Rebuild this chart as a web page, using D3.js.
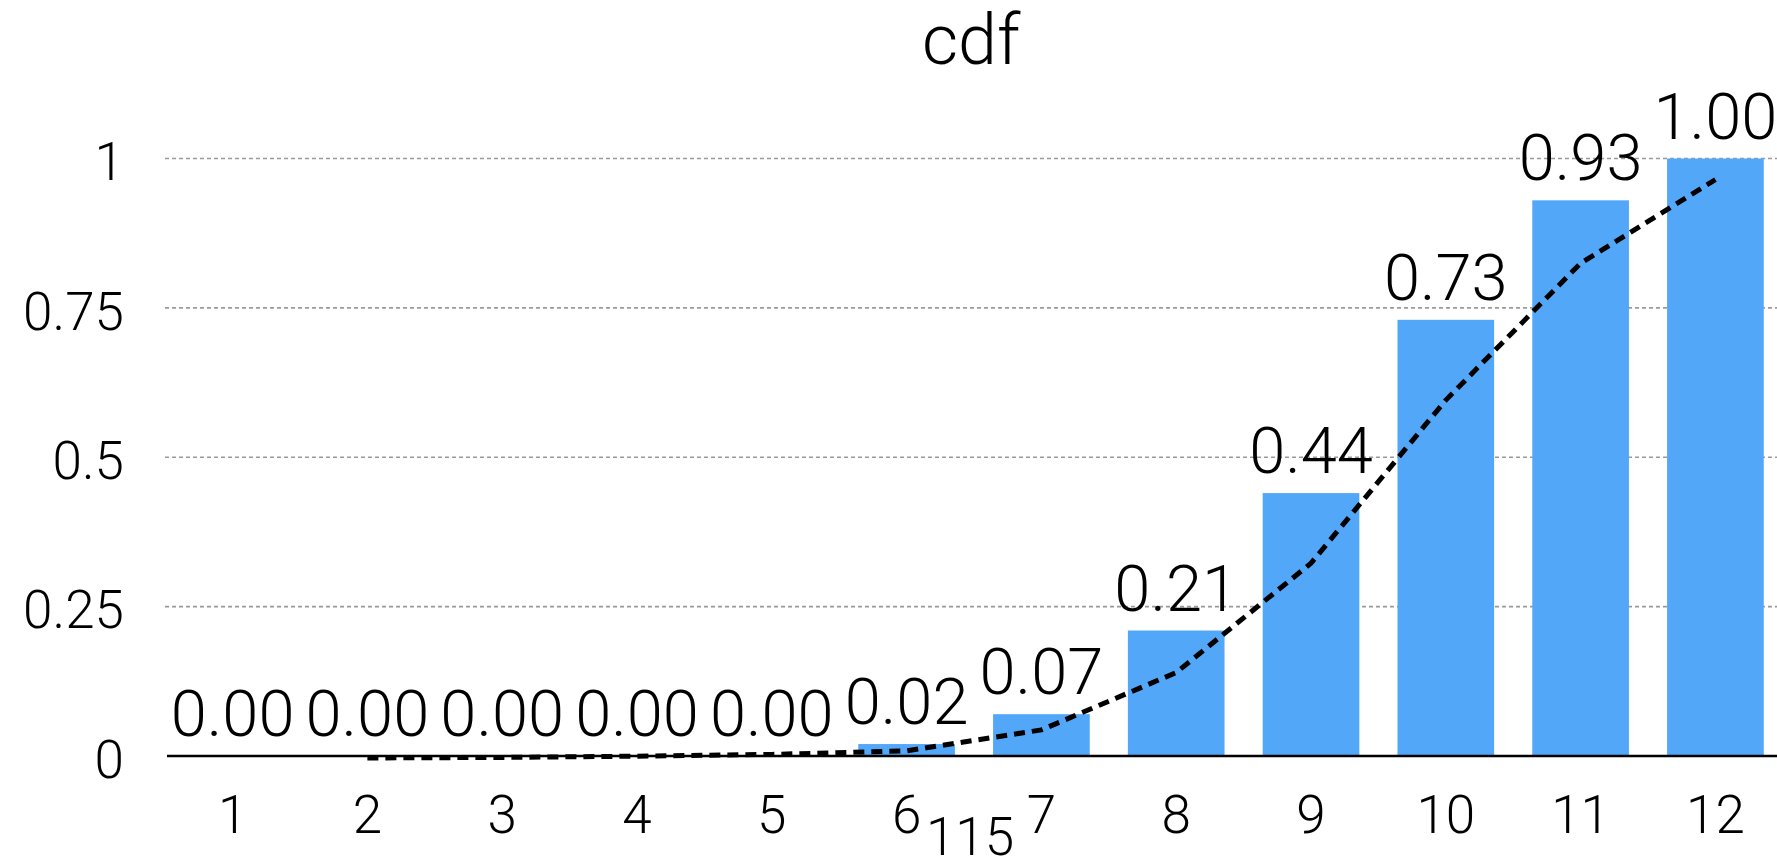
<!DOCTYPE html>
<html>
<head>
<meta charset="utf-8">
<script src="https://cdn.jsdelivr.net/npm/d3@7"></script>
<style>
  html, body { margin: 0; padding: 0; background: #fff; }
  svg { display: block; }
  text { font-family: Roboto, "Liberation Sans", sans-serif; font-weight: 300; fill: #000; }
</style>
</head>
<body>
<svg id="chart" width="1777" height="856"></svg>
<script>
// Categories on the x axis
const categories = [1, 2, 3, 4, 5, 6, 7, 8, 9, 10, 11, 12];
// Cumulative probability per category (bars)
const cdfValues = [0.00, 0.00, 0.00, 0.00, 0.00, 0.02, 0.07, 0.21, 0.44, 0.73, 0.93, 1.00];
// Smooth reference curve (dashed line)
const curveCategories = [2, 3, 4, 5, 6, 7, 8, 9, 10, 11, 12];
const curveValues = [0.000, 0.001, 0.003, 0.006, 0.012, 0.047, 0.143, 0.326, 0.599, 0.828, 0.968];
// Y axis ticks
const yTicks = [0, 0.25, 0.5, 0.75, 1];
const yTickLabels = ["0", "0.25", "0.5", "0.75", "1"];
const chartTitle = "cdf";
const footnote = "115";

const svg = d3.select("#chart");
const W = 1777, H = 856;
const plot = { left: 167, right: 1781, top: 158.5, bottom: 756 };

const x = d3.scaleBand()
  .domain(categories)
  .range([plot.left, plot.right])
  .paddingInner(0.283)
  .paddingOuter(0.128);

const y = d3.scaleLinear()
  .domain([0, 1])
  .range([plot.bottom, plot.top]);

// Dashed horizontal grid lines
svg.append("g")
  .selectAll("line")
  .data(yTicks.filter(d => d > 0))
  .join("line")
  .attr("x1", plot.left - 2)
  .attr("x2", W)
  .attr("y1", d => y(d))
  .attr("y2", d => y(d))
  .attr("stroke", "#9a9a9a")
  .attr("stroke-width", 1.6)
  .attr("stroke-dasharray", "4,3");

// Bars
svg.append("g")
  .selectAll("rect")
  .data(categories)
  .join("rect")
  .attr("x", d => x(d))
  .attr("width", x.bandwidth())
  .attr("y", (d, i) => y(cdfValues[i]))
  .attr("height", (d, i) => y(0) - y(cdfValues[i]))
  .attr("fill", "#52a7f9");

// Value labels above the bars
svg.append("g")
  .selectAll("text")
  .data(categories)
  .join("text")
  .attr("x", d => x(d) + x.bandwidth() / 2)
  .attr("y", (d, i) => y(cdfValues[i]) - 20)
  .attr("text-anchor", "middle")
  .style("font-size", "65px")
  .text((d, i) => d3.format(".2f")(cdfValues[i]));

// Dashed curve through the category centres
const line = d3.line()
  .x((d, i) => x(d) + x.bandwidth() / 2)
  .y((d, i) => y(curveValues[i]));

svg.append("path")
  .datum(curveCategories)
  .attr("transform", "translate(0,2)")
  .attr("d", line)
  .attr("fill", "none")
  .attr("stroke", "#000")
  .attr("stroke-width", 5)
  .attr("stroke-dasharray", "11,7");

// X axis
const xAxis = svg.append("g")
  .attr("transform", `translate(0,${plot.bottom})`)
  .call(d3.axisBottom(x).tickSize(0).tickPadding(0));
xAxis.select(".domain").remove();
xAxis.selectAll("text")
  .attr("y", 77)
  .attr("dy", null)
  .style("font-size", "53px")
  .style("font-family", null);

svg.append("line")
  .attr("x1", plot.left)
  .attr("x2", W)
  .attr("y1", y(0))
  .attr("y2", y(0))
  .attr("stroke", "#000")
  .attr("stroke-width", 2.5);

// Y axis labels
const yAxis = svg.append("g")
  .attr("transform", `translate(124,0)`)
  .call(d3.axisLeft(y).tickValues(yTicks).tickSize(0).tickPadding(0)
    .tickFormat((d, i) => yTickLabels[i]));
yAxis.select(".domain").remove();
yAxis.selectAll("text")
  .attr("x", 0)
  .attr("dy", "0.4em")
  .style("font-size", "53px")
  .style("font-family", null);

// Title
svg.append("text")
  .attr("x", 971)
  .attr("y", 64)
  .attr("text-anchor", "middle")
  .style("font-size", "70px")
  .text(chartTitle);

// Note under the axis
svg.append("text")
  .attr("x", 970)
  .attr("y", 855)
  .attr("text-anchor", "middle")
  .style("font-size", "53px")
  .text(footnote);
</script>
</body>
</html>
